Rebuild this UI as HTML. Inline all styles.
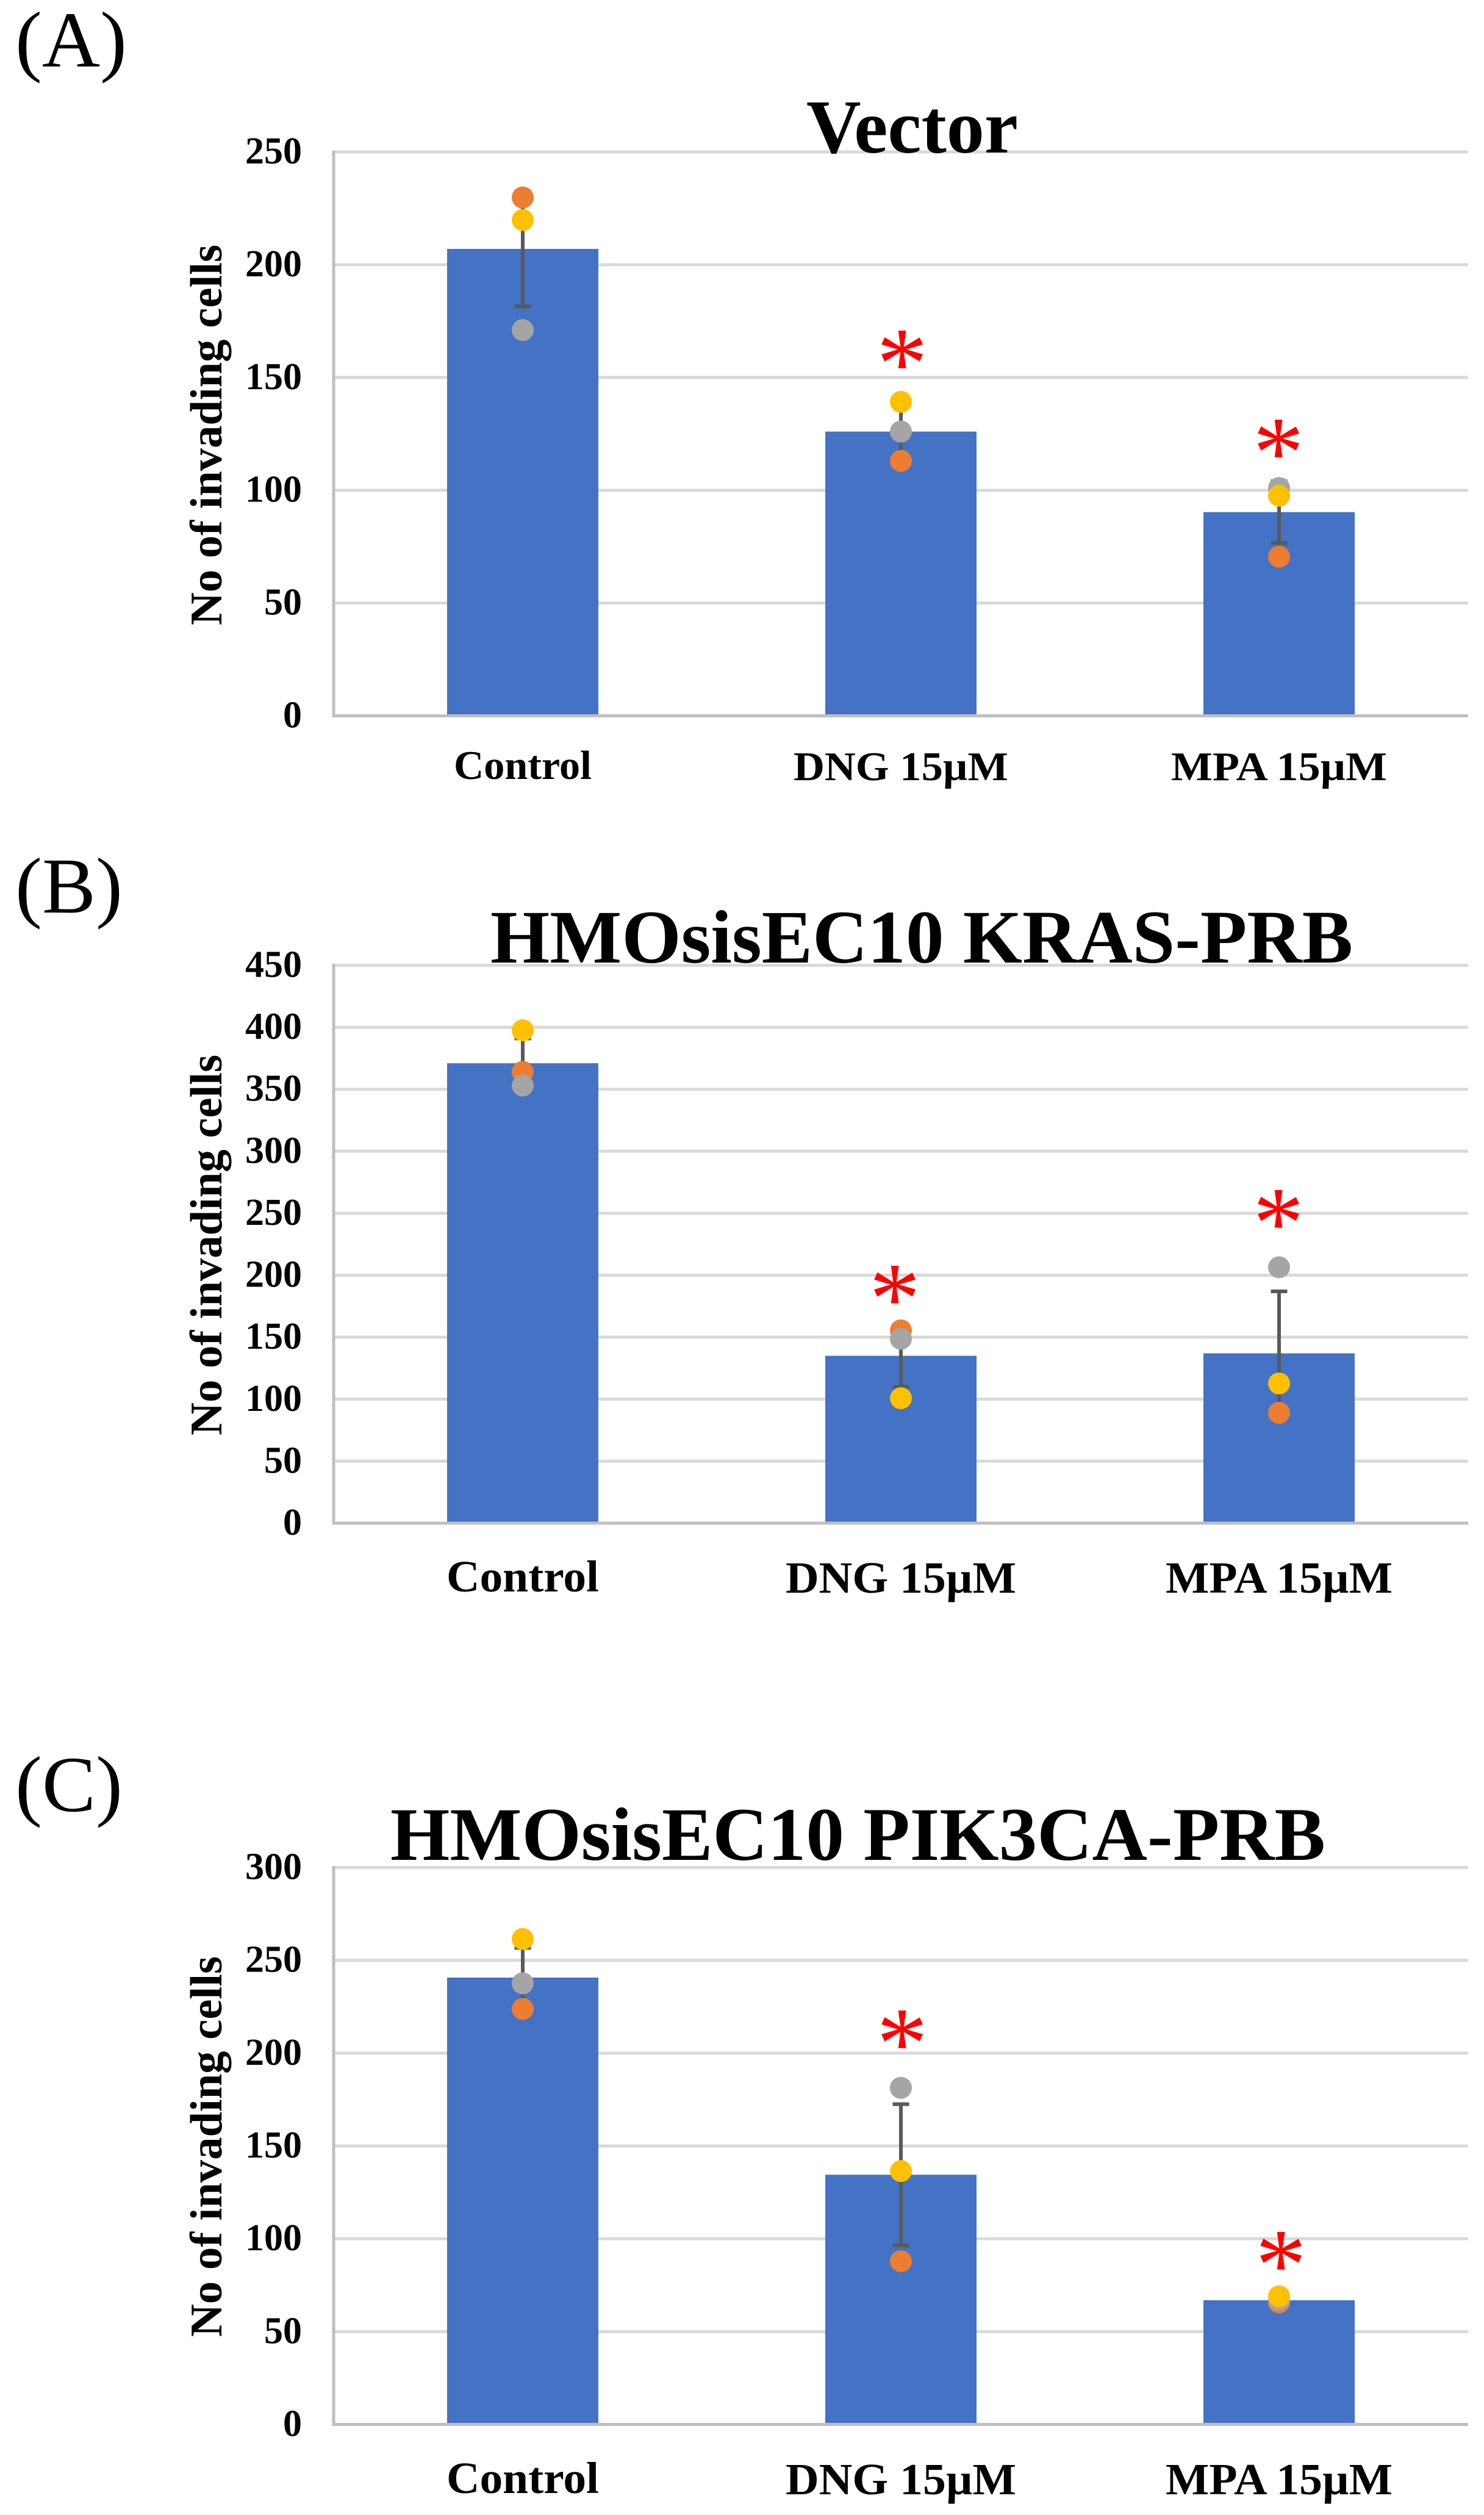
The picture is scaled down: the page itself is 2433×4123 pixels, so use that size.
<!DOCTYPE html>
<html lang="en">
<head>
<meta charset="utf-8">
<title>Invading cells bar charts</title>
<style>
html,body{margin:0;padding:0;background:#fff;}
svg{display:block;}
text{font-family:"Liberation Serif","Times New Roman",serif;fill:#000;}
.bold{font-weight:bold;}
.star{fill:#ff0000;font-size:168px;text-anchor:middle;}
</style>
</head>
<body>
<svg id="figure" xmlns="http://www.w3.org/2000/svg" width="2433" height="4123" viewBox="0 0 2433 4123">
  <rect width="2433" height="4123" fill="#ffffff"/>

  <text x="25" y="109" font-size="130" textLength="183" lengthAdjust="spacingAndGlyphs">(A)</text>
  <g id="plot-a"></g>
  <text class="bold" x="1322" y="250" font-size="125" textLength="347" lengthAdjust="spacingAndGlyphs">Vector</text>
  <text class="bold" transform="translate(363,1025) rotate(-90)" font-size="74" textLength="624" lengthAdjust="spacingAndGlyphs">No of invading cells</text>
  <text class="star" x="1479" y="652">*</text>
  <text class="star" x="2096" y="798">*</text>

  <text x="25" y="1496" font-size="130" textLength="176" lengthAdjust="spacingAndGlyphs">(B)</text>
  <g id="plot-b"></g>
  <text class="bold" x="804" y="1578" font-size="124" textLength="1414" lengthAdjust="spacingAndGlyphs">HMOsisEC10 KRAS-PRB</text>
  <text class="bold" transform="translate(363,2353) rotate(-90)" font-size="74" textLength="624" lengthAdjust="spacingAndGlyphs">No of invading cells</text>
  <text class="star" x="1467" y="2185">*</text>
  <text class="star" x="2096" y="2061">*</text>

  <text x="25" y="2969" font-size="130" textLength="176" lengthAdjust="spacingAndGlyphs">(C)</text>
  <g id="plot-c"></g>
  <text class="bold" x="640" y="3049" font-size="124" textLength="1533" lengthAdjust="spacingAndGlyphs">HMOsisEC10 PIK3CA-PRB</text>
  <text class="bold" transform="translate(363,3831) rotate(-90)" font-size="74" textLength="624" lengthAdjust="spacingAndGlyphs">No of invading cells</text>
  <text class="star" x="1479" y="3406">*</text>
  <text class="star" x="2100" y="3769">*</text>
</svg>

<script>
// Shared categories
const categories = ['Control', 'DNG 15µM', 'MPA 15µM'];

// Panel A: Vector
const ticksA = [0, 50, 100, 150, 200, 250];
const barsA = [207, 126, 90.3];
const errorsA = [25.5, 13, 13.7];
const orangeA = [229.8, 113, 70.5];
const greyA = [171, 126, 101];
const yellowA = [219.8, 139.2, 97.6];

// Panel B: HMOsisEC10 KRAS-PRB
const ticksB = [0, 50, 100, 150, 200, 250, 300, 350, 400, 450];
const barsB = [371, 135, 137];
const errorsB = [20, 25, 50];
const orangeB = [364, 155.5, 89];
const greyB = [353, 148.7, 206.4];
const yellowB = [397.6, 100.8, 112.7];

// Panel C: HMOsisEC10 PIK3CA-PRB
const ticksC = [0, 50, 100, 150, 200, 250, 300];
const barsC = [240.7, 134.5, 66.9];
const errorsC = [16, 38, 1.5];
const orangeC = [223.8, 87.9, 65.7];
const greyC = [237.6, 181.3, 67];
const yellowC = [261.5, 136.5, 69];

const NS = 'http://www.w3.org/2000/svg';
const plotLeft = 547;
const plotRight = 2407;
const barWidth = 248;
const dotRadius = 18;
const capWidth = 27;
const colors = { bar: '#4472C4', orange: '#ED7D31', grey: '#A5A5A5', yellow: '#FFC000', grid: '#D9D9D9', axis: '#BFBFBF', error: '#595959' };

function svgEl(parent, tag, attrs, text) {
  const el = document.createElementNS(NS, tag);
  for (const k in attrs) el.setAttribute(k, attrs[k]);
  if (text !== undefined) el.textContent = text;
  parent.appendChild(el);
  return el;
}

function xCenter(i) {
  return plotLeft + (plotRight - plotLeft) * (i + 0.5) / categories.length;
}

function drawChart(opts) {
  const root = document.getElementById(opts.id);
  const maxV = opts.ticks[opts.ticks.length - 1];
  const y = v => opts.bottom - (v / maxV) * (opts.bottom - opts.top);

  opts.ticks.forEach(t => {
    if (t > 0) {
      const line = svgEl(root, 'line', { x1: plotLeft, x2: plotRight, y1: y(t), y2: y(t), stroke: colors.grid, 'stroke-width': 5 });
      
      
    }
    const label = svgEl(root, 'text', { x: 495, y: y(t) + 19, 'font-size': 62, 'font-weight': 'bold', 'text-anchor': 'end' }, String(t));
    
    
  });

  opts.bars.forEach((v, i) => {
    const bar = svgEl(root, 'rect', { x: xCenter(i) - barWidth / 2, y: y(v), width: barWidth, height: opts.bottom - y(v), fill: colors.bar });
    
    
  });

  const axisY = svgEl(root, 'line', { x1: plotLeft, x2: plotLeft, y1: opts.top - 2.5, y2: opts.bottom + 2.5, stroke: colors.axis, 'stroke-width': 5 });
  
  
  const axisX = svgEl(root, 'line', { x1: plotLeft, x2: plotRight, y1: opts.bottom, y2: opts.bottom, stroke: colors.axis, 'stroke-width': 5 });
  
  

  opts.bars.forEach((v, i) => {
    const cx = xCenter(i);
    const hi = y(v + opts.errors[i]);
    const lo = y(v - opts.errors[i]);
    const stem = svgEl(root, 'line', { x1: cx, x2: cx, y1: hi, y2: lo, stroke: colors.error, 'stroke-width': 6 });
    
    
    const capTop = svgEl(root, 'line', { x1: cx - capWidth / 2, x2: cx + capWidth / 2, y1: hi, y2: hi, stroke: colors.error, 'stroke-width': 6 });
    
    
    const capLow = svgEl(root, 'line', { x1: cx - capWidth / 2, x2: cx + capWidth / 2, y1: lo, y2: lo, stroke: colors.error, 'stroke-width': 6 });
    
    
  });

  [[opts.orange, colors.orange, 'replicate-point-orange'],
   [opts.grey, colors.grey, 'replicate-point-grey'],
   [opts.yellow, colors.yellow, 'replicate-point-yellow']].forEach(series => {
    series[0].forEach((v, i) => {
      const dot = svgEl(root, 'circle', { cx: xCenter(i), cy: y(v), r: dotRadius, fill: series[1] });
      
      
    });
  });

  categories.forEach((c, i) => {
    const label = svgEl(root, 'text', {
      x: xCenter(i), y: opts.labelY + (i > 0 ? 2 : 0),
      'font-size': opts.labelFont, 'font-weight': 'bold', 'text-anchor': 'middle',
      textLength: opts.labelWidths[i], lengthAdjust: 'spacingAndGlyphs'
    }, c);
    
    
  });
}

drawChart({ id: 'plot-a', top: 249, bottom: 1173.5, labelY: 1277, labelFont: 67, labelWidths: [226, 352, 354],
  ticks: ticksA, bars: barsA, errors: errorsA, orange: orangeA, grey: greyA, yellow: yellowA });
drawChart({ id: 'plot-b', top: 1582.5, bottom: 2497, labelY: 2609, labelFont: 73, labelWidths: [250, 378, 372],
  ticks: ticksB, bars: barsB, errors: errorsB, orange: orangeB, grey: greyB, yellow: yellowB });
drawChart({ id: 'plot-c', top: 3061.5, bottom: 3974.5, labelY: 4087, labelFont: 73, labelWidths: [250, 378, 372],
  ticks: ticksC, bars: barsC, errors: errorsC, orange: orangeC, grey: greyC, yellow: yellowC });
</script>
</body>
</html>
